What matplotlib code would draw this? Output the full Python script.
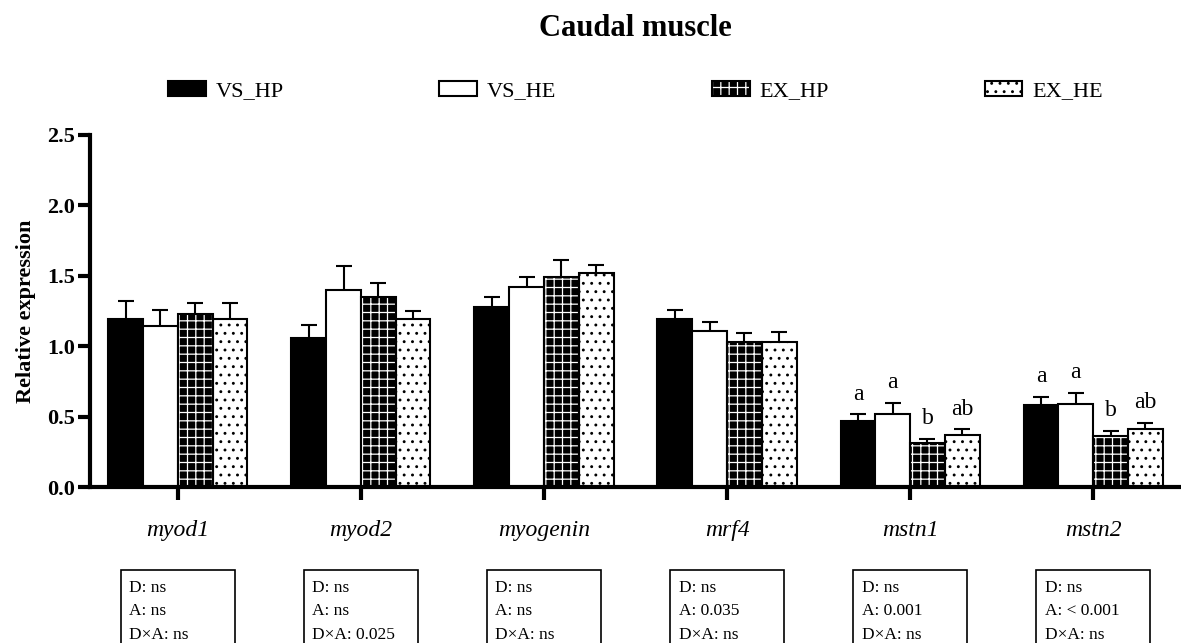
import numpy as np
import matplotlib
matplotlib.use('Agg')
import matplotlib.pyplot as plt
from matplotlib.patches import Rectangle, Patch
from matplotlib.legend_handler import HandlerTuple
import matplotlib.transforms as mtransforms

genes = ['myod1', 'myod2', 'myogenin', 'mrf4', 'mstn1', 'mstn2']
groups = ['VS_HP', 'VS_HE', 'EX_HP', 'EX_HE']

vs_hp = [1.19, 1.06, 1.28, 1.19, 0.47, 0.58]
vs_he = [1.14, 1.40, 1.42, 1.11, 0.52, 0.59]
ex_hp = [1.23, 1.35, 1.49, 1.03, 0.31, 0.36]
ex_he = [1.19, 1.19, 1.52, 1.03, 0.37, 0.41]

vs_hp_err = [0.13, 0.09, 0.07, 0.065, 0.045, 0.06]
vs_he_err = [0.12, 0.17, 0.07, 0.065, 0.08, 0.08]
ex_hp_err = [0.08, 0.10, 0.12, 0.065, 0.03, 0.04]
ex_he_err = [0.12, 0.06, 0.06, 0.07, 0.04, 0.045]

letters = {'mstn1': ['a', 'a', 'b', 'ab'], 'mstn2': ['a', 'a', 'b', 'ab']}

stats = [
    'D: ns\nA: ns\nD×A: ns',
    'D: ns\nA: ns\nD×A: 0.025',
    'D: ns\nA: ns\nD×A: ns',
    'D: ns\nA: 0.035\nD×A: ns',
    'D: ns\nA: 0.001\nD×A: ns',
    'D: ns\nA: < 0.001\nD×A: ns',
]

plt.rcParams['font.family'] = 'Liberation Serif'
plt.rcParams['hatch.linewidth'] = 0.9

fig = plt.figure(figsize=(11.81, 6.43), dpi=100)
ax = fig.add_axes([0.0762, 0.2426, 0.9238, 0.5475])

x = np.arange(len(genes))
w = 0.19
means = [vs_hp, vs_he, ex_hp, ex_he]
errs = [vs_hp_err, vs_he_err, ex_hp_err, ex_he_err]
offsets = [-1.5 * w, -0.5 * w, 0.5 * w, 1.5 * w]

handles = []
for i in range(4):
    xi = x + offsets[i]
    if i == 0:
        ax.bar(xi, means[i], w, color='black', edgecolor='black', linewidth=1.5, zorder=2)
        handles.append(Patch(facecolor='black', edgecolor='black', linewidth=1.5))
    elif i == 1:
        ax.bar(xi, means[i], w, color='white', edgecolor='black', linewidth=1.5, zorder=2)
        handles.append(Patch(facecolor='white', edgecolor='black', linewidth=1.5))
    elif i == 2:
        with plt.rc_context({'hatch.color': 'white'}):
            ax.bar(xi, means[i], w, color='black', linewidth=0, hatch='++', zorder=2)
            h1 = Patch(facecolor='black', linewidth=0, hatch='++')
        ax.bar(xi, means[i], w, fill=False, edgecolor='black', linewidth=1.5, zorder=3)
        h2 = Patch(fill=False, edgecolor='black', linewidth=1.5)
        handles.append((h1, h2))
    else:
        with plt.rc_context({'hatch.color': 'black'}):
            ax.bar(xi, means[i], w, color='white', linewidth=0, hatch='..', zorder=2)
            h1 = Patch(facecolor='white', linewidth=0, hatch='..')
        ax.bar(xi, means[i], w, fill=False, edgecolor='black', linewidth=1.5, zorder=3)
        h2 = Patch(fill=False, edgecolor='black', linewidth=1.5)
        handles.append((h1, h2))

    eb = ax.errorbar(xi, means[i], yerr=[np.zeros(len(genes)), errs[i]], fmt='none',
                     ecolor='black', elinewidth=1.5, capsize=6, capthick=1.5, zorder=1)
    eb[1][0].set_visible(False)

# significance letters
for g, labs in letters.items():
    gi = genes.index(g)
    for i, lab in enumerate(labs):
        top = means[i][gi] + errs[i][gi]
        ax.annotate(lab, (x[gi] + offsets[i], top), xytext=(0, 7), textcoords='offset points',
                    ha='center', va='bottom', fontsize=17)

ax.set_ylim(0, 2.5)
ax.set_xlim(-0.48, len(genes) - 0.52)
ax.set_yticks([0, 0.5, 1.0, 1.5, 2.0, 2.5])
ax.set_yticklabels(['0.0', '0.5', '1.0', '1.5', '2.0', '2.5'], fontweight='bold', fontsize=16)
ax.set_xticks(x)
ax.set_xticklabels(genes, fontstyle='italic', fontsize=17)
ax.tick_params(axis='y', length=9, width=3, pad=2)
ax.tick_params(axis='x', length=9, width=3, pad=15)
for s in ['top', 'right']:
    ax.spines[s].set_visible(False)
for s in ['left', 'bottom']:
    ax.spines[s].set_linewidth(3)
ax.set_ylabel('Relative expression', fontweight='bold', fontsize=16, labelpad=8)

# stats boxes under each gene
trans = mtransforms.blended_transform_factory(ax.transData, fig.transFigure)
bw = 0.62
for gi, txt in enumerate(stats):
    r = Rectangle((x[gi] - bw / 2, -0.05), bw, 1 - 570 / 643 + 0.05, transform=trans,
                  fill=False, edgecolor='black', linewidth=1.2, clip_on=False)
    fig.add_artist(r)
    ax.text(x[gi] - bw / 2 + 0.045, 1 - 580 / 643, txt, transform=trans, ha='left', va='top',
            fontsize=12.5, linespacing=1.62)

fig.text(0.538, 1 - 28 / 643, 'Caudal muscle', ha='center', va='center',
         fontsize=22, fontweight='bold')

fig.legend(handles, groups, loc='center', bbox_to_anchor=(0.538, 1 - 91 / 643), ncol=4,
           frameon=False, fontsize=16, handlelength=1.7, handleheight=0.65,
           handletextpad=0.45, columnspacing=7.0,
           handler_map={tuple: HandlerTuple(ndivide=1, pad=0)})

fig.savefig('out.png', dpi=100)
